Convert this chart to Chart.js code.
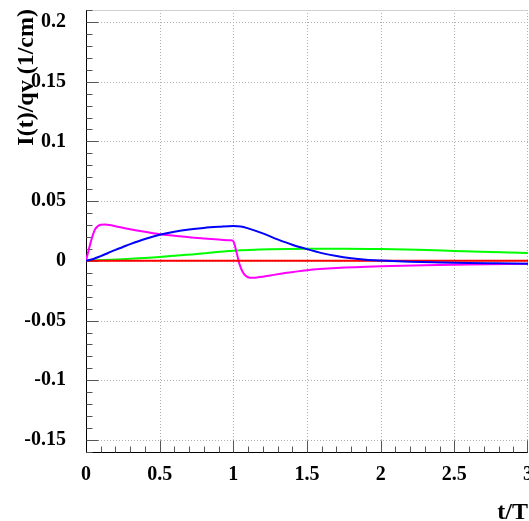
<!DOCTYPE html>
<html>
<head>
<meta charset="utf-8">
<script src="https://cdn.jsdelivr.net/npm/chart.js@4.4.0/dist/chart.umd.min.js"></script>
<style>
  html, body { margin: 0; padding: 0; background: #fff; }
  canvas { display: block; }
</style>
</head>
<body>
<canvas id="chart" width="529" height="521"></canvas>
<script>
// tick labels
const xTicks = [0, 0.5, 1, 1.5, 2, 2.5, 3];
const xTickLabels = ["0", "0.5", "1", "1.5", "2", "2.5", "3"];
const yTicks = [0.2, 0.15, 0.1, 0.05, 0, -0.05, -0.1, -0.15];
const yTickLabels = ["0.2", "0.15", "0.1", "0.05", "0", "-0.05", "-0.1", "-0.15"];

// series (t/T, I(t)/qv)
const redT = [0, 3];
const redV = [0, 0];

const greenT = [0, 0.25, 0.5, 0.75, 1.0, 1.25, 1.5, 1.75, 2.0, 2.25, 2.5, 2.75, 3.0];
const greenV = [0, 0.0014, 0.0032, 0.0058, 0.0085, 0.0098, 0.0102, 0.0102, 0.0099, 0.0092, 0.0083, 0.0074, 0.0065];

const blueT = [0, 0.05, 0.1, 0.15, 0.2, 0.25, 0.3, 0.4, 0.5, 0.6, 0.7, 0.8, 0.9, 1.0, 1.05, 1.1, 1.2, 1.3, 1.4, 1.5, 1.6, 1.7, 1.8, 1.9, 2.0, 2.2, 2.4, 2.6, 2.8, 3.0];
const blueV = [0, 0.0016, 0.0040, 0.0066, 0.0092, 0.0116, 0.0140, 0.0183, 0.0218, 0.0244, 0.0263, 0.0276, 0.0285, 0.0292, 0.0288, 0.0272, 0.0230, 0.0180, 0.0135, 0.0098, 0.0065, 0.0040, 0.0022, 0.0010, 0.0003, -0.0007, -0.0013, -0.0018, -0.0021, -0.0024];

const magentaT = [0, 0.02, 0.04, 0.06, 0.08, 0.1, 0.13, 0.16, 0.2, 0.3, 0.4, 0.5, 0.6, 0.7, 0.8, 0.9, 0.98, 1.0, 1.02, 1.04, 1.06, 1.08, 1.1, 1.13, 1.18, 1.25, 1.35, 1.5, 1.7, 2.0, 2.3, 2.6, 3.0];
const magentaV = [0, 0.010, 0.019, 0.026, 0.029, 0.0302, 0.0304, 0.0300, 0.0290, 0.0265, 0.0243, 0.0223, 0.0210, 0.0197, 0.0187, 0.0178, 0.0172, 0.0165, 0.0080, -0.0020, -0.0085, -0.0120, -0.0137, -0.0142, -0.0136, -0.0122, -0.0102, -0.0078, -0.0060, -0.0045, -0.0036, -0.0030, -0.0025];

const FONT = '"Liberation Serif", "DejaVu Serif", serif';

function pts(ts, vs) {
  return ts.map((t, i) => ({ x: t, y: vs[i] }));
}

function series(ts, vs, color, order) {
  return {
    data: pts(ts, vs),
    borderColor: color,
    borderWidth: 2,
    pointRadius: 0,
    fill: false,
    cubicInterpolationMode: "monotone",
    order: order
  };
}

// frame, dotted grid, inward ticks and axis titles
const framePlugin = {
  id: "frame",
  beforeDatasetsDraw(chart) {
    const { ctx, chartArea: a, scales } = chart;
    const xs = scales.x, ys = scales.y;
    ctx.save();

    // dotted grid
    ctx.strokeStyle = "#b0b0b0";
    ctx.lineWidth = 1;
    ctx.setLineDash([1, 2]);
    xTicks.forEach(v => {
      if (v === 0) return;
      const px = Math.min(Math.round(xs.getPixelForValue(v)), Math.round(a.right) - 1) + 0.5;
      ctx.beginPath(); ctx.moveTo(px, a.top); ctx.lineTo(px, a.bottom); ctx.stroke();
    });
    yTicks.forEach(v => {
      const py = Math.round(ys.getPixelForValue(v)) + 0.5;
      ctx.beginPath(); ctx.moveTo(a.left, py); ctx.lineTo(a.right, py); ctx.stroke();
    });
    ctx.setLineDash([]);

    // top frame line
    ctx.strokeStyle = "#d0d0d0";
    ctx.beginPath(); ctx.moveTo(a.left, a.top + 0.5); ctx.lineTo(a.right, a.top + 0.5); ctx.stroke();

    // axes
    ctx.strokeStyle = "#000";
    const lx = Math.round(a.left) + 0.5, by = Math.round(a.bottom) + 0.5;
    ctx.beginPath();
    ctx.moveTo(lx, a.top); ctx.lineTo(lx, by); ctx.lineTo(a.right, by);
    ctx.stroke();

    // inward ticks on x (every 0.1, major every 0.5)
    ctx.strokeStyle = "#555";
    ctx.beginPath();
    for (let k = 1; k <= 30; k++) {
      const px = Math.min(Math.round(xs.getPixelForValue(k / 10)), Math.round(a.right) - 1) + 0.5;
      const len = (k % 5 === 0) ? 12 : 6;
      ctx.moveTo(px, by); ctx.lineTo(px, by - len);
    }
    // inward ticks on y (every 0.01, major every 0.05)
    for (let k = -16; k <= 21; k++) {
      const py = Math.round(ys.getPixelForValue(k / 100)) + 0.5;
      const len = (k % 5 === 0) ? 12 : 6;
      ctx.moveTo(lx, py); ctx.lineTo(lx + len, py);
    }
    ctx.stroke();
    ctx.restore();
  },
  afterDraw(chart) {
    const { ctx } = chart;
    ctx.save();
    ctx.fillStyle = "#000";
    ctx.font = "bold 24px " + FONT;
    // x title
    ctx.textAlign = "right";
    ctx.textBaseline = "alphabetic";
    ctx.fillText("t/T", 528, 519);
    // y title, reading upward
    ctx.translate(33, 9);
    ctx.rotate(-Math.PI / 2);
    ctx.textAlign = "right";
    ctx.fillText("I(t)/qv (1/cm)", 0, 0);
    ctx.restore();
  }
};

new Chart(document.getElementById("chart"), {
  type: "line",
  data: {
    datasets: [
      series(redT, redV, "#ff0000", 1),
      series(greenT, greenV, "#00ff00", 3),
      series(magentaT, magentaV, "#ff00ff", 2),
      series(blueT, blueV, "#0000ff", 0)
    ]
  },
  options: {
    responsive: false,
    animation: false,
    devicePixelRatio: 1,
    layout: { padding: { top: 10, right: 1, left: 0, bottom: 0 } },
    plugins: { legend: { display: false }, tooltip: { enabled: false } },
    scales: {
      x: {
        type: "linear",
        min: 0,
        max: 3,
        afterFit: s => { s.height = 69; s.paddingLeft = 0; s.paddingRight = 0; },
        afterBuildTicks: s => { s.ticks = xTicks.map(v => ({ value: v })); },
        grid: { display: false },
        border: { display: false },
        ticks: {
          padding: 3,
          color: "#000",
          maxRotation: 0,
          autoSkip: false,
          font: { family: FONT, size: 20, weight: "bold" },
          callback: v => xTickLabels[xTicks.indexOf(v)]
        }
      },
      y: {
        type: "linear",
        min: -0.16,
        max: 0.21,
        afterFit: s => { s.width = 86; s.paddingTop = 0; s.paddingBottom = 0; },
        afterBuildTicks: s => { s.ticks = yTicks.map(v => ({ value: v })); },
        grid: { display: false },
        border: { display: false },
        ticks: {
          padding: 12,
          color: "#000",
          autoSkip: false,
          font: { family: FONT, size: 20, weight: "bold" },
          callback: v => yTickLabels[yTicks.indexOf(v)]
        }
      }
    }
  },
  plugins: [framePlugin]
});
</script>
</body>
</html>
